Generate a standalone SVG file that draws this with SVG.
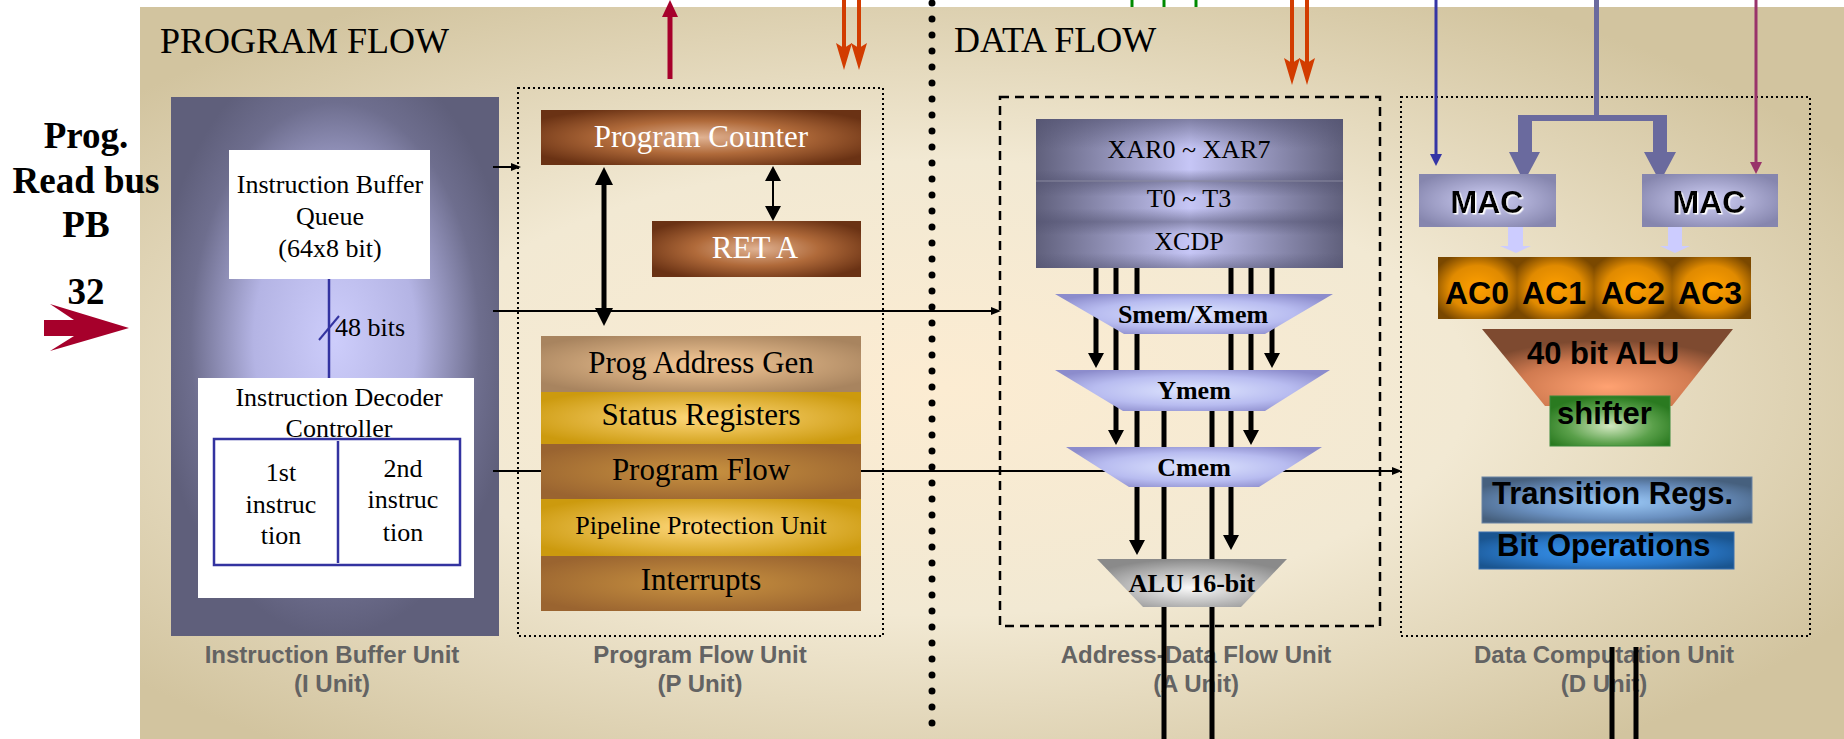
<svg xmlns="http://www.w3.org/2000/svg" width="1844" height="739" viewBox="0 0 1844 739">
<style>
.serif{font-family:"Liberation Serif","Times New Roman",serif;}
.ulabel{font-family:"Liberation Sans",Arial,sans-serif;font-weight:bold;font-size:24px;fill:#636363;text-anchor:middle;}
.title{font-family:"Liberation Serif","Times New Roman",serif;font-size:36px;fill:#000;}
.t26{font-size:26px;text-anchor:middle;fill:#000;}
.t31{font-size:31px;text-anchor:middle;}
.b26{font-family:"Liberation Serif","Times New Roman",serif;font-weight:bold;font-size:26px;text-anchor:middle;fill:#000;}
.s30{font-family:"Liberation Sans",Arial,sans-serif;font-weight:bold;font-size:31px;fill:#000;}
.s32{font-family:"Liberation Sans",Arial,sans-serif;font-weight:bold;font-size:32px;fill:#000;text-anchor:middle;}
.blk{stroke:#000;fill:none;}
.dot{fill:none;stroke:#000;stroke-width:2;stroke-dasharray:2 3;}
</style>
<defs>
<radialGradient id="gPanel" cx="0.47" cy="0.52" r="0.62">
<stop offset="0" stop-color="#fcecd2"/><stop offset="0.5" stop-color="#f2e9d3"/><stop offset="1" stop-color="#d2c49f"/>
</radialGradient>
<radialGradient id="gIU" cx="0.5" cy="0.45" r="0.55">
<stop offset="0" stop-color="#cdcdfb"/><stop offset="0.45" stop-color="#b4b4e4"/><stop offset="0.8" stop-color="#6e6e8e"/><stop offset="1" stop-color="#5f5f7b"/>
</radialGradient>
<radialGradient id="gBrown" cx="0.5" cy="0.5" r="0.6">
<stop offset="0" stop-color="#e0b292"/><stop offset="0.5" stop-color="#b06a3a"/><stop offset="1" stop-color="#6a3214"/>
</radialGradient>
<radialGradient id="gPAG" cx="0.5" cy="0.5" r="0.6">
<stop offset="0" stop-color="#f6ca98"/><stop offset="1" stop-color="#a8845f"/>
</radialGradient>
<radialGradient id="gGold" cx="0.5" cy="0.5" r="0.6">
<stop offset="0" stop-color="#ffd87c"/><stop offset="1" stop-color="#cc9a0e"/>
</radialGradient>
<radialGradient id="gPF" cx="0.5" cy="0.5" r="0.6">
<stop offset="0" stop-color="#c99240"/><stop offset="1" stop-color="#9a6430"/>
</radialGradient>
<linearGradient id="gReg" x1="0" y1="0" x2="1" y2="0">
<stop offset="0" stop-color="#60607c"/><stop offset="0.5" stop-color="#c6c6f6"/><stop offset="1" stop-color="#60607c"/>
</linearGradient>
<linearGradient id="gRegBand" x1="0" y1="0" x2="0" y2="1">
<stop offset="0" stop-color="#50506e" stop-opacity="0.6"/><stop offset="0.2" stop-color="#50506e" stop-opacity="0"/>
<stop offset="0.34" stop-color="#50506e" stop-opacity="0"/><stop offset="0.42" stop-color="#50506e" stop-opacity="0.5"/>
<stop offset="0.52" stop-color="#50506e" stop-opacity="0"/><stop offset="0.6" stop-color="#50506e" stop-opacity="0"/>
<stop offset="0.69" stop-color="#50506e" stop-opacity="0.5"/><stop offset="0.78" stop-color="#50506e" stop-opacity="0"/>
<stop offset="0.9" stop-color="#50506e" stop-opacity="0"/><stop offset="1" stop-color="#50506e" stop-opacity="0.5"/>
</linearGradient>
<radialGradient id="gTrap" cx="0.5" cy="0.5" r="0.6">
<stop offset="0" stop-color="#dfe6ff"/><stop offset="0.6" stop-color="#b8bcf0"/><stop offset="1" stop-color="#8c8ccc"/>
</radialGradient>
<radialGradient id="gGray" cx="0.5" cy="0.6" r="0.6">
<stop offset="0" stop-color="#fafafa"/><stop offset="1" stop-color="#8a8a8a"/>
</radialGradient>
<radialGradient id="gMAC" cx="0.5" cy="0.5" r="0.6">
<stop offset="0" stop-color="#d0d0f6"/><stop offset="1" stop-color="#8686ae"/>
</radialGradient>
<radialGradient id="gAC" cx="0.5" cy="0.5" r="0.6">
<stop offset="0" stop-color="#ffa000"/><stop offset="0.6" stop-color="#e08a00"/><stop offset="1" stop-color="#7a4800"/>
</radialGradient>
<radialGradient id="gALU40" cx="0.5" cy="0.75" r="0.6">
<stop offset="0" stop-color="#ffa272"/><stop offset="0.6" stop-color="#d07a50"/><stop offset="1" stop-color="#7e4a30"/>
</radialGradient>
<radialGradient id="gShift" cx="0.5" cy="0.6" r="0.6">
<stop offset="0" stop-color="#d2e8c0"/><stop offset="0.6" stop-color="#5aa04a"/><stop offset="1" stop-color="#2a7a20"/>
</radialGradient>
<radialGradient id="gTR" cx="0.5" cy="0.55" r="0.6">
<stop offset="0" stop-color="#9ccaf8"/><stop offset="0.6" stop-color="#6a90c0"/><stop offset="1" stop-color="#46607e"/>
</radialGradient>
<radialGradient id="gBit" cx="0.5" cy="0.55" r="0.6">
<stop offset="0" stop-color="#3a9af8"/><stop offset="0.6" stop-color="#2a78c8"/><stop offset="1" stop-color="#1a5590"/>
</radialGradient>
<filter id="wsh" x="-10%" y="-10%" width="130%" height="130%">
<feDropShadow dx="1.5" dy="1.5" stdDeviation="0.3" flood-color="#fff" flood-opacity="1"/>
</filter>
<marker id="mS" markerUnits="userSpaceOnUse" markerWidth="10" markerHeight="8" refX="2" refY="4" orient="auto"><path d="M0,0 L10,4 L0,8 z" fill="#000"/></marker>
<marker id="mT" markerUnits="userSpaceOnUse" markerWidth="18" markerHeight="18" refX="4" refY="9" orient="auto-start-reverse"><path d="M0,0 L18,9 L0,18 z" fill="#000"/></marker>
<marker id="mM" markerUnits="userSpaceOnUse" markerWidth="15" markerHeight="16" refX="4" refY="8" orient="auto-start-reverse"><path d="M0,0 L15,8 L0,16 z" fill="#000"/></marker>
<marker id="mR" markerUnits="userSpaceOnUse" markerWidth="17" markerHeight="16" refX="4" refY="8" orient="auto"><path d="M0,0 L17,8 L0,16 z" fill="#a6002b"/></marker>
<marker id="mO" markerUnits="userSpaceOnUse" markerWidth="27" markerHeight="16" refX="7" refY="8" orient="auto"><path d="M0,0 L27,8 L0,16 L5,8 z" fill="#d23c00"/></marker>
<marker id="mBl" markerUnits="userSpaceOnUse" markerWidth="12" markerHeight="12" refX="3" refY="6" orient="auto"><path d="M0,0 L12,6 L0,12 z" fill="#3535a5"/></marker>
<marker id="mMg" markerUnits="userSpaceOnUse" markerWidth="12" markerHeight="12" refX="3" refY="6" orient="auto"><path d="M0,0 L12,6 L0,12 z" fill="#99336a"/></marker>
</defs>

<rect x="0" y="0" width="1844" height="739" fill="#fff"/>
<rect id="panel" x="140" y="7" width="1704" height="732" fill="url(#gPanel)"/>
<text class="title" x="160" y="53">PROGRAM FLOW</text>
<text class="title" x="954" y="52">DATA FLOW</text>
<line id="divider" x1="932" y1="3" x2="932" y2="739" stroke="#000" stroke-width="7" stroke-linecap="round" stroke-dasharray="0 16"/>

<g id="progbus">
<text class="serif" font-weight="bold" font-size="37" text-anchor="middle" x="86" y="148">Prog.</text>
<text class="serif" font-weight="bold" font-size="37" text-anchor="middle" x="86" y="193">Read bus</text>
<text class="serif" font-weight="bold" font-size="37" text-anchor="middle" x="86" y="237">PB</text>
<text class="serif" font-weight="bold" font-size="37" text-anchor="middle" x="86" y="304">32</text>
<polygon points="44,320 74,320 50,304 129,328 50,351 74,336 44,336" fill="#a6002b"/>
</g>

<g id="iunit">
<rect x="171" y="97" width="328" height="539" fill="url(#gIU)"/>
<text class="ulabel" x="332" y="663">Instruction Buffer Unit</text>
<text class="ulabel" x="332" y="692">(I Unit)</text>
</g>
<g id="punit">
<rect class="dot" x="518" y="88" width="365" height="548"/>
<text class="ulabel" x="700" y="663">Program Flow Unit</text>
<text class="ulabel" x="700" y="692">(P Unit)</text>
</g>
<g id="aunit">
<rect x="1000" y="97" width="380" height="529" fill="none" stroke="#000" stroke-width="2.5" stroke-dasharray="9 6"/>
<text class="ulabel" x="1196" y="663">Address-Data Flow Unit</text>
<text class="ulabel" x="1196" y="692">(A Unit)</text>
</g>
<g id="dunit">
<rect class="dot" x="1401" y="97" width="409" height="539"/>
<text class="ulabel" x="1604" y="663">Data Computation Unit</text>
<text class="ulabel" x="1604" y="692">(D Unit)</text>
</g>

<g id="connectors">
<line class="blk" stroke-width="2" x1="493" y1="167" x2="513" y2="167" marker-end="url(#mS)"/>
<line class="blk" stroke-width="2" x1="493" y1="311" x2="993" y2="311" marker-end="url(#mS)"/>
<line class="blk" stroke-width="2" x1="493" y1="471" x2="1394" y2="471" marker-end="url(#mS)"/>
<line class="blk" stroke-width="5" x1="604" y1="181" x2="604" y2="312" marker-start="url(#mT)" marker-end="url(#mT)"/>
<line class="blk" stroke-width="2" x1="773" y1="177" x2="773" y2="210" marker-start="url(#mM)" marker-end="url(#mM)"/>
<line x1="670" y1="79" x2="670" y2="13" stroke="#a6002b" stroke-width="5" marker-end="url(#mR)"/>
<line x1="844" y1="0" x2="844" y2="50" stroke="#d23c00" stroke-width="4" marker-end="url(#mO)"/>
<line x1="859" y1="0" x2="859" y2="50" stroke="#d23c00" stroke-width="4" marker-end="url(#mO)"/>
<line x1="1292" y1="0" x2="1292" y2="65" stroke="#d23c00" stroke-width="4" marker-end="url(#mO)"/>
<line x1="1307" y1="0" x2="1307" y2="65" stroke="#d23c00" stroke-width="4" marker-end="url(#mO)"/>
<g stroke="#008a00" stroke-width="3">
<line x1="1132" y1="0" x2="1132" y2="7"/><line x1="1164" y1="0" x2="1164" y2="7"/><line x1="1196" y1="0" x2="1196" y2="7"/>
</g>
<g class="blk" stroke-width="5">
<line x1="1096" y1="268" x2="1096" y2="357" marker-end="url(#mM)"/>
<line x1="1272" y1="268" x2="1272" y2="357" marker-end="url(#mM)"/>
<line x1="1116" y1="268" x2="1116" y2="434" marker-end="url(#mM)"/>
<line x1="1251" y1="268" x2="1251" y2="434" marker-end="url(#mM)"/>
<line x1="1137" y1="268" x2="1137" y2="544" marker-end="url(#mM)"/>
<line x1="1231" y1="268" x2="1231" y2="539" marker-end="url(#mM)"/>
<line x1="1164" y1="400" x2="1164" y2="739"/>
<line x1="1212" y1="400" x2="1212" y2="739"/>
<line x1="1612" y1="647" x2="1612" y2="739"/>
<line x1="1636" y1="647" x2="1636" y2="739"/>
</g>
<line x1="1436" y1="0" x2="1436" y2="157" stroke="#3535a5" stroke-width="3" marker-end="url(#mBl)"/>
<line x1="1756" y1="0" x2="1756" y2="165" stroke="#99336a" stroke-width="3" marker-end="url(#mMg)"/>
<g fill="#6a6a9e">
<rect x="1594" y="0" width="5" height="118"/>
<rect x="1518" y="115" width="149" height="6"/>
<path d="M1518,115 H1532 V152 H1540 L1524,182 L1509,152 H1518 Z"/>
<path d="M1653,115 H1667 V152 H1676 L1660,182 L1644,152 H1653 Z"/>
</g>
<g fill="#ccccff">
<path d="M1508,227 H1523 V246 H1531 L1516,253 L1500,246 H1508 Z"/>
<path d="M1668,227 H1682 V246 H1690 L1675,253 L1660,246 H1668 Z"/>
</g>
</g>

<g id="ibq">
<rect x="229" y="150" width="201" height="129" fill="#fff"/>
<text class="serif t26" x="330" y="193">Instruction Buffer</text>
<text class="serif t26" x="330" y="225">Queue</text>
<text class="serif t26" x="330" y="257">(64x8 bit)</text>
</g>
<g id="bus48">
<line x1="329" y1="279" x2="329" y2="378" stroke="#3333a0" stroke-width="2.5"/>
<line x1="319" y1="340" x2="339" y2="316" stroke="#3333a0" stroke-width="2"/>
<text class="serif" font-size="26" x="335" y="336">48 bits</text>
</g>
<g id="decoder">
<rect x="198" y="378" width="276" height="220" fill="#fff"/>
<text class="serif t26" x="339" y="406">Instruction Decoder</text>
<text class="serif t26" x="339" y="437">Controller</text>
<rect x="214" y="439" width="246" height="126" fill="none" stroke="#3333a0" stroke-width="2.5"/>
<line x1="338" y1="441" x2="338" y2="563" stroke="#3333a0" stroke-width="2.5"/>
<text class="serif t26" x="281" y="481">1st</text>
<text class="serif t26" x="281" y="513">instruc</text>
<text class="serif t26" x="281" y="544">tion</text>
<text class="serif t26" x="403" y="477">2nd</text>
<text class="serif t26" x="403" y="508">instruc</text>
<text class="serif t26" x="403" y="541">tion</text>
</g>

<g id="pc">
<rect x="541" y="110" width="320" height="55" fill="url(#gBrown)"/>
<text class="serif t31" fill="#fff" x="701" y="147">Program Counter</text>
</g>
<g id="reta">
<rect x="652" y="221" width="209" height="56" fill="url(#gBrown)"/>
<text class="serif t31" fill="#fff" x="755" y="258">RET A</text>
</g>
<g id="pag">
<rect x="541" y="336" width="320" height="56" fill="url(#gPAG)"/>
<text class="serif t31" x="701" y="373">Prog Address Gen</text>
</g>
<g id="status">
<rect x="541" y="392" width="320" height="52" fill="url(#gGold)"/>
<text class="serif t31" x="701" y="425">Status Registers</text>
</g>
<g id="progflow">
<rect x="541" y="444" width="320" height="55" fill="url(#gPF)"/>
<text class="serif t31" x="701" y="480">Program Flow</text>
</g>
<g id="ppu">
<rect x="541" y="499" width="320" height="57" fill="url(#gGold)"/>
<text class="serif" font-size="26" text-anchor="middle" x="701" y="534">Pipeline Protection Unit</text>
</g>
<g id="interrupts">
<rect x="541" y="556" width="320" height="55" fill="url(#gPF)"/>
<text class="serif t31" x="701" y="590">Interrupts</text>
</g>

<g id="regs">
<rect x="1036" y="119" width="307" height="149" fill="url(#gReg)"/>
<rect x="1036" y="119" width="307" height="149" fill="url(#gRegBand)"/>
<line x1="1036" y1="181" x2="1343" y2="181" stroke="#8a8aa0" stroke-width="1"/>
<text class="serif t26" x="1189" y="158">XAR0 ~ XAR7</text>
<text class="serif t26" x="1189" y="207">T0 ~ T3</text>
<text class="serif t26" x="1189" y="250">XCDP</text>
</g>
<g id="smem">
<polygon points="1055,294 1333,294 1265,334 1124,334" fill="url(#gTrap)"/>
<text class="b26" x="1193" y="323">Smem/Xmem</text>
</g>
<g id="ymem">
<polygon points="1055,370 1330,370 1265,411 1123,411" fill="url(#gTrap)"/>
<text class="b26" x="1194" y="399">Ymem</text>
</g>
<g id="cmem">
<polygon points="1066,447 1322,447 1259,487 1129,487" fill="url(#gTrap)"/>
<text class="b26" x="1194" y="476">Cmem</text>
</g>
<g id="alu16">
<polygon points="1097,559 1287,559 1241,607 1143,607" fill="url(#gGray)"/>
<text class="b26" x="1192" y="592">ALU 16-bit</text>
</g>

<g id="mac1">
<rect x="1419" y="174" width="137" height="53" fill="url(#gMAC)"/>
<text class="s32" x="1487" y="213" filter="url(#wsh)">MAC</text>
</g>
<g id="mac2">
<rect x="1642" y="174" width="136" height="53" fill="url(#gMAC)"/>
<text class="s32" x="1709" y="213" filter="url(#wsh)">MAC</text>
</g>
<g id="acc">
<rect x="1438" y="257" width="79" height="62" fill="url(#gAC)"/>
<rect x="1517" y="257" width="77" height="62" fill="url(#gAC)"/>
<rect x="1594" y="257" width="78" height="62" fill="url(#gAC)"/>
<rect x="1672" y="257" width="79" height="62" fill="url(#gAC)"/>
<text class="s32" x="1477" y="304">AC0</text>
<text class="s32" x="1554" y="304">AC1</text>
<text class="s32" x="1633" y="304">AC2</text>
<text class="s32" x="1710" y="304">AC3</text>
</g>
<g id="alu40">
<polygon points="1482,329 1733,329 1672,406 1545,406" fill="url(#gALU40)"/>
<text class="s30" text-anchor="middle" x="1603" y="364">40 bit ALU</text>
</g>
<g id="shifter">
<rect x="1550" y="396" width="120" height="50" fill="url(#gShift)" stroke="#3a8a3a" stroke-width="1"/>
<text class="s30" x="1557" y="424">shifter</text>
</g>
<g id="transregs">
<rect x="1482" y="477" width="270" height="46" fill="url(#gTR)" stroke="#6a84a4" stroke-width="1"/>
<text class="s30" x="1492" y="504">Transition Regs.</text>
</g>
<g id="bitops">
<rect x="1479" y="532" width="255" height="37" fill="url(#gBit)" stroke="#3a70b0" stroke-width="1"/>
<text class="s30" x="1497" y="556">Bit Operations</text>
</g>
</svg>
